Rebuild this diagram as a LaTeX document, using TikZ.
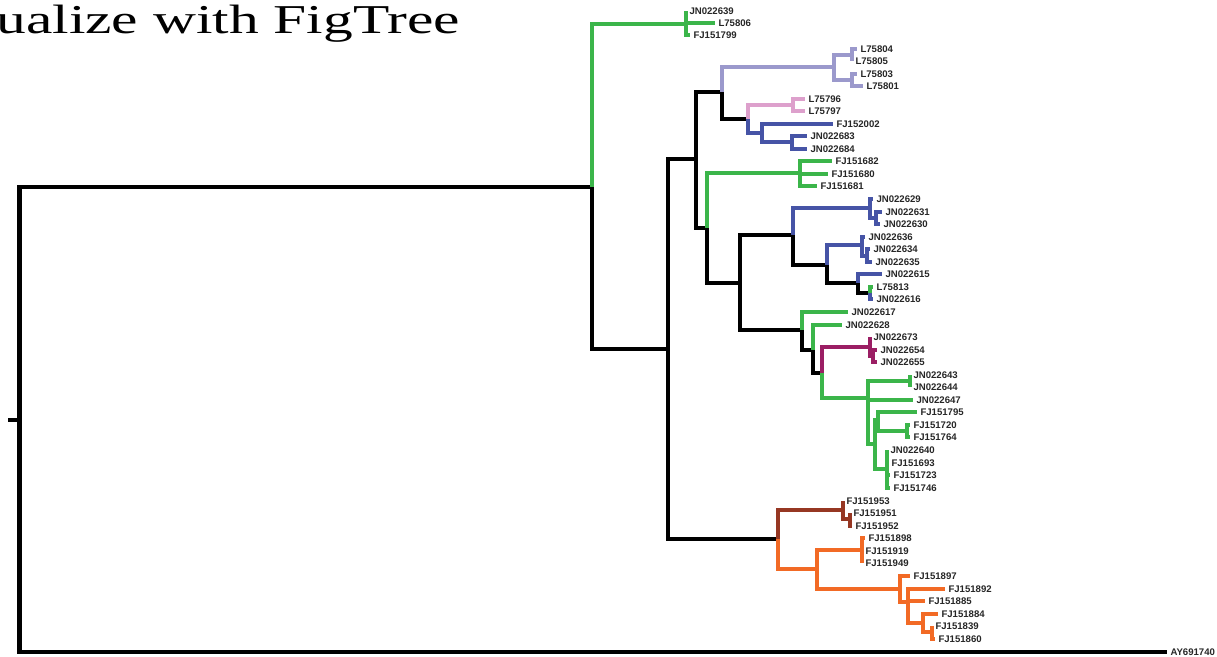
\documentclass[tikz,border=0pt]{standalone}
\usepackage{fontspec}
\usepackage{graphicx}
\newfontfamily\labfont{Liberation Sans}
\newfontfamily\titlefont{Liberation Serif}
\definecolor{colG}{RGB}{59,181,74}
\definecolor{colL}{RGB}{155,153,204}
\definecolor{colP}{RGB}{221,160,204}
\definecolor{colB}{RGB}{70,84,166}
\definecolor{colM}{RGB}{155,30,100}
\definecolor{colR}{RGB}{150,55,35}
\definecolor{colO}{RGB}{242,106,37}
\definecolor{colK}{RGB}{0,0,0}
\tikzset{
  lab/.style={anchor=west, inner xsep=3.5pt, inner ysep=1pt, outer sep=0pt,
    font=\labfont\bfseries\fontsize{9.6}{10}\selectfont, text=black!85},
  edge/.style={line width=4.2pt, line join=miter},
}
\newcommand\kids[3]{\foreach \c in {#3}{\draw[edge,#1] (#2) |- (\c);}}
\newcommand\lf[3]{\node[lab] (#1) at (#2,#3) {#1};}
\begin{document}
\begin{tikzpicture}[x=1pt,y=-1pt]
\useasboundingbox (0,0) rectangle (1217,656);
\node[anchor=base east, inner sep=0pt] (title) at (460,33)
  {\scalebox{1.45}[1]{\titlefont\fontsize{41}{41}\selectfont ualize with FigTree}};
% leaves
\lf{JN022639}{686}{11}
\lf{L75806}{715}{23}
\lf{FJ151799}{690}{35}
\lf{L75804}{857}{49}
\lf{L75805}{852}{61}
\lf{L75803}{857}{74}
\lf{L75801}{863}{86}
\lf{L75796}{805}{99}
\lf{L75797}{805}{111}
\lf{FJ152002}{833}{124}
\lf{JN022683}{807}{136}
\lf{JN022684}{807}{149}
\lf{FJ151682}{832}{161}
\lf{FJ151680}{828}{174}
\lf{FJ151681}{817}{186}
\lf{JN022629}{873}{199}
\lf{JN022631}{882}{212}
\lf{JN022630}{880}{224}
\lf{JN022636}{865}{237}
\lf{JN022634}{870}{249}
\lf{JN022635}{872}{262}
\lf{JN022615}{882}{274}
\lf{L75813}{873}{287}
\lf{JN022616}{873}{299}
\lf{JN022617}{848}{312}
\lf{JN022628}{842}{325}
\lf{JN022673}{870}{337}
\lf{JN022654}{877}{350}
\lf{JN022655}{877}{362}
\lf{JN022643}{910}{375}
\lf{JN022644}{910}{387}
\lf{JN022647}{913}{400}
\lf{FJ151795}{917}{412}
\lf{FJ151720}{910}{425}
\lf{FJ151764}{910}{437}
\lf{JN022640}{887}{450}
\lf{FJ151693}{888}{463}
\lf{FJ151723}{890}{475}
\lf{FJ151746}{890}{488}
\lf{FJ151953}{843}{501}
\lf{FJ151951}{850}{513}
\lf{FJ151952}{852}{526}
\lf{FJ151898}{865}{538}
\lf{FJ151919}{862}{551}
\lf{FJ151949}{862}{563}
\lf{FJ151897}{910}{576}
\lf{FJ151892}{945}{589}
\lf{FJ151885}{925}{601}
\lf{FJ151884}{938}{614}
\lf{FJ151839}{932}{626}
\lf{FJ151860}{935}{639}
\lf{AY691740}{1167}{652}
% internal nodes
\coordinate (R0) at (8,420);
\coordinate (R) at (19.5,420);
\coordinate (N1) at (592,187);
\coordinate (G1) at (686,24);
\coordinate (N2) at (668,349);
\coordinate (N3) at (696,159);
\coordinate (N5) at (722,92);
\coordinate (LL) at (834,67);
\coordinate (LL1) at (852,55);
\coordinate (LL2) at (852,80);
\coordinate (N7) at (748,119);
\coordinate (PK) at (793,105);
\coordinate (B1) at (762,133);
\coordinate (B2) at (792,142);
\coordinate (N6) at (707,228);
\coordinate (G2) at (800,173);
\coordinate (N8) at (740,283);
\coordinate (N9) at (793,235);
\coordinate (B3) at (870,208);
\coordinate (B4) at (876,218);
\coordinate (N11) at (827,265);
\coordinate (B5) at (862,245);
\coordinate (B6) at (867,256);
\coordinate (N12) at (858,283);
\coordinate (N13) at (870,293);
\coordinate (N10) at (802,330);
\coordinate (N14) at (813,350);
\coordinate (N15) at (822,373);
\coordinate (PU) at (870,347);
\coordinate (PU2) at (873,356);
\coordinate (G3) at (868,398);
\coordinate (G4) at (910,381);
\coordinate (G5) at (875,444);
\coordinate (G6) at (878,420);
\coordinate (G8) at (907,431);
\coordinate (G7) at (887,469);
\coordinate (N4) at (778,539);
\coordinate (BR) at (843,510);
\coordinate (BR2) at (850,519);
\coordinate (OR) at (817,569);
\coordinate (OR1) at (862,550);
\coordinate (OR2) at (900,589);
\coordinate (OR3) at (908,602);
\coordinate (OR4) at (923,623);
\coordinate (OR5) at (932,632);
% edges
\draw[edge,colK] (R0) -- (R);
\kids{colK}{R}{N1,AY691740.west}
\kids{colG}{N1}{G1}
\kids{colK}{N1}{N2}
\kids{colG}{G1}{JN022639.west,L75806.west,FJ151799.west}
\kids{colK}{N2}{N3,N4}
\kids{colK}{N3}{N5,N6}
\kids{colL}{N5}{LL}
\kids{colK}{N5}{N7}
\kids{colL}{LL}{LL1,LL2}
\kids{colL}{LL1}{L75804.west,L75805.west}
\kids{colL}{LL2}{L75803.west,L75801.west}
\kids{colP}{N7}{PK}
\kids{colP}{PK}{L75796.west,L75797.west}
\kids{colB}{N7}{B1}
\kids{colB}{B1}{FJ152002.west,B2}
\kids{colB}{B2}{JN022683.west,JN022684.west}
\kids{colG}{N6}{G2}
\kids{colG}{G2}{FJ151682.west,FJ151680.west,FJ151681.west}
\kids{colK}{N6}{N8}
\kids{colK}{N8}{N9,N10}
\kids{colB}{N9}{B3}
\kids{colB}{B3}{JN022629.west,B4}
\kids{colB}{B4}{JN022631.west,JN022630.west}
\kids{colK}{N9}{N11}
\kids{colB}{N11}{B5}
\kids{colB}{B5}{JN022636.west,B6}
\kids{colB}{B6}{JN022634.west,JN022635.west}
\kids{colK}{N11}{N12}
\kids{colB}{N12}{JN022615.west}
\kids{colK}{N12}{N13}
\kids{colG}{N13}{L75813.west}
\kids{colB}{N13}{JN022616.west}
\kids{colG}{N10}{JN022617.west}
\kids{colK}{N10}{N14}
\kids{colG}{N14}{JN022628.west}
\kids{colK}{N14}{N15}
\kids{colM}{N15}{PU}
\kids{colM}{PU}{JN022673.west,PU2}
\kids{colM}{PU2}{JN022654.west,JN022655.west}
\kids{colG}{N15}{G3}
\kids{colG}{G3}{G4,JN022647.west,G5}
\kids{colG}{G4}{JN022643.west,JN022644.west}
\kids{colG}{G5}{G6,G7}
\kids{colG}{G6}{FJ151795.west,G8}
\kids{colG}{G8}{FJ151720.west,FJ151764.west}
\kids{colG}{G7}{JN022640.west,FJ151693.west,FJ151723.west,FJ151746.west}
\kids{colR}{N4}{BR}
\kids{colR}{BR}{FJ151953.west,BR2}
\kids{colR}{BR2}{FJ151951.west,FJ151952.west}
\kids{colO}{N4}{OR}
\kids{colO}{OR}{OR1,OR2}
\kids{colO}{OR1}{FJ151898.west,FJ151919.west,FJ151949.west}
\kids{colO}{OR2}{FJ151897.west,OR3}
\kids{colO}{OR3}{FJ151892.west,FJ151885.west,OR4}
\kids{colO}{OR4}{FJ151884.west,OR5}
\kids{colO}{OR5}{FJ151839.west,FJ151860.west}
\end{tikzpicture}
\end{document}
